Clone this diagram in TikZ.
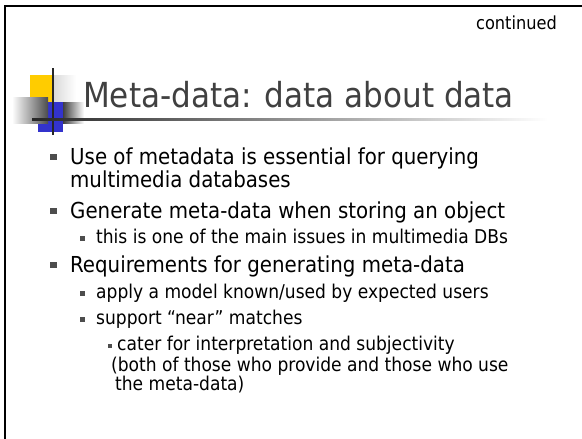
\documentclass[tikz,border=0pt]{standalone}
\usepackage{fontspec}
\setmainfont{DejaVu Sans Condensed}
\begin{document}
\begin{tikzpicture}[x=1pt,y=-1pt,
  frameline/.style={line width=2pt,black},
  titletext/.style={anchor=base west,inner sep=0pt,text=titlegray,font=\fontsize{34.5}{34.5}\selectfont},
  lvlone/.style={anchor=base west,inner sep=0pt,font=\fontsize{22}{22}\selectfont},
  lvltwo/.style={anchor=base west,inner sep=0pt,font=\fontsize{19}{19}\selectfont},
  bulletone/.style={fill=bulletgray,minimum size=6.5pt,inner sep=0pt},
  bullettwo/.style={fill=bulletgray,minimum size=5pt,inner sep=0pt},
  bulletthree/.style={fill=bulletgray,minimum size=4.2pt,inner sep=0pt}]
\definecolor{titlegray}{HTML}{404040}
\definecolor{bulletgray}{HTML}{4D4D4D}
\definecolor{logoyellow}{HTML}{FFCC00}
\definecolor{logoblue}{HTML}{3333CC}
\useasboundingbox (0,0) rectangle (582,439);
\fill[white] (0,0) rectangle (582,439);
% slide frame
\draw[frameline] (582,5.5) -- (4.5,5.5) -- (4.5,439);
% corner logo
\fill[logoyellow] (30,75) rectangle (53,102);
\shade[left color=black!15,right color=white] (53,75) rectangle (76,102);
\fill[logoblue] (38,102) rectangle (63,132);
\shade[left color=black!75,right color=white] (63,102) rectangle (84,123);
\shade[left color=white,right color=black!70] (12,97) rectangle (48,123);
\draw[line width=2pt,black!85] (53,68) -- (53,135);
\shade[left color=black!85,right color=white,shading angle=90] (32,118.2) rectangle (548,120.2);
% heading
\node[titletext] (title) at (83,107) {Meta-data: data about data};
\node[anchor=base east,inner sep=0pt,font=\fontsize{18}{18}\selectfont] (cont) at (557,29) {continued};
% bullet list
\node[bulletone] (b1) at (53.5,157) {};
\node[lvlone] (t1a) at (70,164) {Use of metadata is essential for querying};
\node[lvlone] (t1b) at (70,187) {multimedia databases};
\node[bulletone] (b2) at (53.5,211) {};
\node[lvlone] (t2) at (70,218) {Generate meta-data when storing an object};
\node[bullettwo] (b21) at (82,238) {};
\node[lvltwo] (t21) at (96,243) {this is one of the main issues in multimedia DBs};
\node[bulletone] (b3) at (53.5,265) {};
\node[lvlone] (t3) at (70,272) {Requirements for generating meta-data};
\node[bullettwo] (b31) at (82,293) {};
\node[lvltwo] (t31) at (96,298) {apply a model known/used by expected users};
\node[bullettwo] (b32) at (82,319) {};
\node[lvltwo] (t32) at (96,324) {support “near” matches};
\node[bulletthree] (b321) at (110,346) {};
\node[lvltwo] (t321) at (117,350) {cater for interpretation and subjectivity};
\node[lvltwo] (t322) at (111,371) {(both of those who provide and those who use};
\node[lvltwo] (t323) at (115,390) {the meta-data)};
\end{tikzpicture}
\end{document}
